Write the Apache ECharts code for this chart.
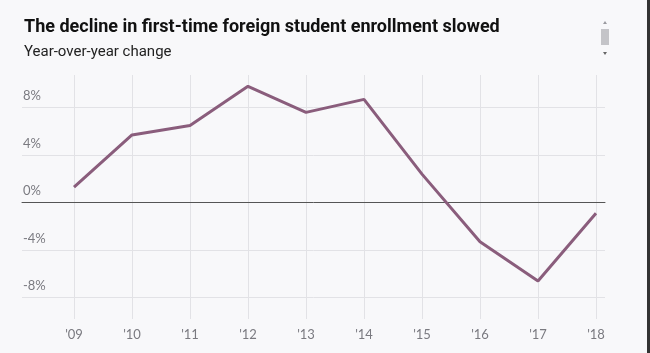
<!DOCTYPE html>
<html>
<head>
<meta charset="utf-8">
<script src="https://cdn.jsdelivr.net/npm/echarts@6/dist/echarts.min.js"></script>
<style>
  html, body { margin: 0; padding: 0; background: #f8f8fa; }
  #chart { width: 650px; height: 353px; }
</style>
</head>
<body>
<div id="chart"></div>
<script>
// year-over-year change in first-time foreign student enrollment (%)
const years = ["'09", "'10", "'11", "'12", "'13", "'14", "'15", "'16", "'17", "'18"]
const changes = [1.3, 5.7, 6.5, 9.8, 7.6, 8.7, 2.4, -3.3, -6.6, -0.9]
const yTicks = [-8, -4, 0, 4, 8]

const lineColor = '#8a5d7c'
const gridColor = '#e2e2e6'
const labelColor = '#7a7a80'

const chart = echarts.init(document.getElementById('chart'))

const option = {
  backgroundColor: '#f8f8fa',
  animation: false,
  title: {
    text: 'The decline in first-time foreign student enrollment slowed',
    subtext: 'Year-over-year change',
    left: 19,
    top: 13,
    itemGap: 9,
    textStyle: {
      fontFamily: 'Roboto',
      fontWeight: 'bold',
      fontSize: 18,
      color: '#111',
    },
    subtextStyle: {
      fontFamily: 'Roboto',
      fontSize: 15,
      color: '#222',
    },
  },
  // grid 0: horizontal gridlines + percent labels, grid 1: the line and year axis
  grid: [
    { left: 22, right: 45, top: 107.7, bottom: 55.3 },
    { left: 74, right: 54, top: 75, bottom: 34 },
  ],
  xAxis: [
    {
      gridIndex: 0,
      type: 'value',
      min: 0,
      max: 1,
      axisLine: { show: true, onZero: true, lineStyle: { color: '#555', width: 1 } },
      axisTick: { show: false },
      axisLabel: { show: false },
      splitLine: { show: false },
      z: 5,
    },
    {
      gridIndex: 1,
      type: 'category',
      data: years,
      boundaryGap: false,
      axisLine: { show: false },
      axisTick: { show: false },
      axisLabel: {
        color: labelColor,
        fontFamily: 'Lato',
        fontSize: 13,
        margin: 9,
      },
      splitLine: { show: true, lineStyle: { color: gridColor, width: 1 } },
    },
  ],
  yAxis: [
    {
      gridIndex: 0,
      type: 'value',
      min: yTicks[0],
      max: yTicks[yTicks.length - 1],
      interval: 4,
      axisLine: { show: false },
      axisTick: { show: false },
      axisLabel: {
        inside: true,
        margin: 1,
        verticalAlign: 'bottom',
        padding: [0, 0, 5, 0],
        color: labelColor,
        fontFamily: 'Lato',
        fontSize: 13,
        formatter: (v) => v + '%',
      },
      splitLine: { show: true, lineStyle: { color: gridColor, width: 1 } },
    },
    {
      gridIndex: 1,
      type: 'value',
      min: -9.8,
      max: 10.75,
      show: false,
      splitLine: { show: false },
    },
  ],
  graphic: [
    { type: 'rect', shape: { x: 601, y: 29, width: 8, height: 16 }, style: { fill: '#c4c4c8' } },
    { type: 'polygon', shape: { points: [[603, 24], [607, 24], [605, 21]] }, style: { fill: '#9a9aa0' } },
    { type: 'polygon', shape: { points: [[603, 52], [607, 52], [605, 55]] }, style: { fill: '#666' } },
    { type: 'rect', shape: { x: 647, y: 0, width: 3, height: 353 }, style: { fill: '#333' } },
  ],
  series: [
    {
      type: 'line',
      xAxisIndex: 1,
      yAxisIndex: 1,
      data: changes,
      symbol: 'none',
      lineStyle: { color: lineColor, width: 3 },
      z: 10,
    },
  ],
}

chart.setOption(option)
</script>
</body>
</html>
